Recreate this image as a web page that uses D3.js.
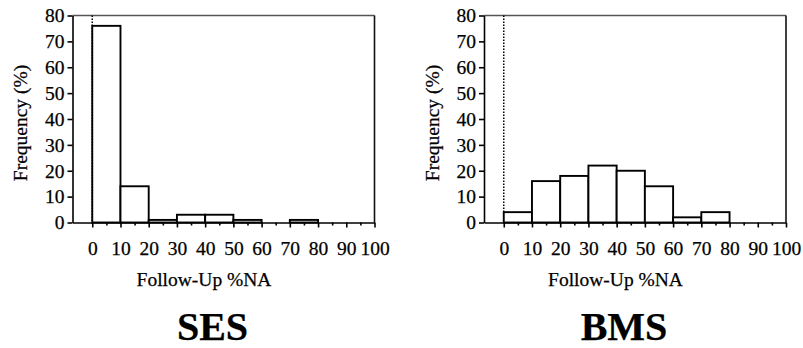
<!DOCTYPE html>
<html>
<head>
<meta charset="utf-8">
<script src="https://cdn.jsdelivr.net/npm/d3@7"></script>
<style>
  body { margin: 0; background: #fff; }
  svg text { font-family: "Liberation Serif", "Times New Roman", serif; fill: #000; stroke: #000; stroke-width: 0.25px; }
</style>
</head>
<body>
<div id="chart"></div>
<script>
// ---DATA---//
var binStarts = [0, 10, 20, 30, 40, 50, 60, 70, 80, 90];
var binWidth = 10;
var sesFreq = [76, 14, 1, 3, 3, 1, 0, 1, 0, 0];
var bmsFreq = [4, 16, 18, 22, 20, 14, 2, 4, 0, 0];
var xMajorTicks = [0, 10, 20, 30, 40, 50, 60, 70, 80, 90, 100];
var xMinorTicks = [5, 15, 25, 35, 45, 55, 65, 75, 85, 95];
var yTicks = [0, 10, 20, 30, 40, 50, 60, 70, 80];
var panelTitles = ["SES", "BMS"];
var xTitle = "Follow-Up %NA";
var yTitle = "Frequency (%)";

// ---LAYOUT---//
var width = 803, height = 348;
var svg = d3.select("#chart").append("svg")
  .attr("width", width).attr("height", height);

var panels = [
  { title: panelTitles[0], freq: sesFreq, left: 72.5 },
  { title: panelTitles[1], freq: bmsFreq, left: 484 }
];

// note: "top" is a window global, so use other names
var plotW = 302, plotTop = 15.5, plotBottom = 222.5;

function drawPanel(p) {

  var x = d3.scaleLinear().domain([-7, 100]).range([p.left, p.left + plotW]);
  var y = d3.scaleLinear().domain([0, 80]).range([plotBottom, plotTop]);

  var g = svg.append("g").attr("class", "panel");

  // frame top / right
  g.append("line")
    .attr("x1", x(-7)).attr("x2", x(100))
    .attr("y1", y(80)).attr("y2", y(80))
    .attr("stroke", "#555").attr("stroke-width", 1.5);
  g.append("line")
    .attr("x1", x(100)).attr("x2", x(100))
    .attr("y1", y(80)).attr("y2", y(0))
    .attr("stroke", "#111").attr("stroke-width", 1.6);

  // dotted reference line at zero
  g.append("line")
    .attr("x1", x(0)).attr("x2", x(0))
    .attr("y1", y(80)).attr("y2", y(0))
    .attr("stroke", "#000").attr("stroke-width", 1.5)
    .attr("stroke-dasharray", "1.5,1.5");

  // bars
  g.selectAll("rect.bar").data(binStarts).enter().append("rect")
    .attr("class", "bar")
    .attr("x", function(d) { return x(d); })
    .attr("width", function(d) { return x(d + binWidth) - x(d); })
    .attr("y", function(d, i) { return y(p.freq[i]); })
    .attr("height", function(d, i) { return y(0) - y(p.freq[i]); })
    .attr("fill", "#fff")
    .attr("stroke", "#000")
    .attr("stroke-width", 1.9);

  // y axis
  var yAxis = d3.axisLeft(y).tickValues(yTicks).tickSize(5).tickPadding(3).tickSizeOuter(0);
  var ya = g.append("g").attr("transform", "translate(" + x(-7) + ",0)").call(yAxis);
  ya.selectAll("text").style("font-size", "19.5px");

  // x axis minor ticks
  var xMinor = d3.axisBottom(x).tickValues(xMinorTicks).tickSize(3).tickFormat("").tickSizeOuter(0);
  g.append("g").attr("transform", "translate(0," + y(0) + ")").call(xMinor)
    .select(".domain").remove();

  // x axis major ticks
  var xAxis = d3.axisBottom(x).tickValues(xMajorTicks).tickSize(5).tickPadding(14).tickSizeOuter(0);
  var xa = g.append("g").attr("transform", "translate(0," + y(0) + ")").call(xAxis);
  xa.selectAll("text").style("font-size", "19.5px");

  g.selectAll(".domain, .tick line").attr("stroke", "#000").attr("stroke-width", 1.6);

  // axis titles
  g.append("text")
    .attr("x", p.left + 131.5).attr("y", 286)
    .attr("text-anchor", "middle")
    .style("font-size", "19.5px")
    .text(xTitle);

  g.append("text")
    .attr("transform", "translate(" + (p.left - 45.5) + "," + 123 + ") rotate(-90)")
    .attr("text-anchor", "middle")
    .style("font-size", "19.5px")
    .text(yTitle);

  // panel title
  g.append("text")
    .attr("x", p.left + 140).attr("y", 340)
    .attr("text-anchor", "middle")
    .style("font-size", "40px")
    .style("font-weight", "bold")
    .text(p.title);
}

panels.forEach(drawPanel);
</script>
</body>
</html>
